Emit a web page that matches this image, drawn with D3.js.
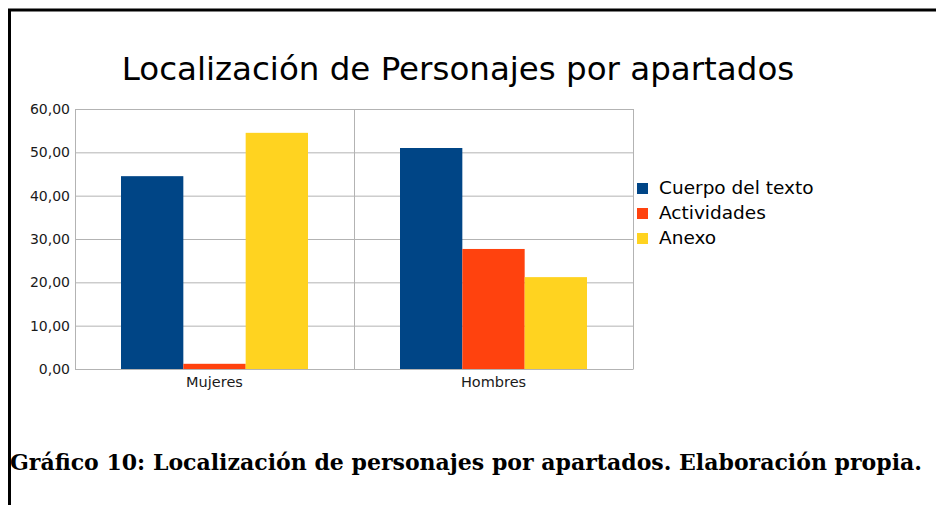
<!DOCTYPE html>
<html>
<head>
<meta charset="utf-8">
<script src="https://cdn.jsdelivr.net/npm/d3@7"></script>
<style>
  body { margin: 0; background: #fff; }
</style>
</head>
<body>
<script>
// datos
var categorias = ["Mujeres", "Hombres"];
var series = ["Cuerpo del texto", "Actividades", "Anexo"];
var cuerpo = [44.5, 51.0];
var actividades = [1.2, 27.7];
var anexo = [54.5, 21.2];
var ticks = [0, 10, 20, 30, 40, 50, 60];
var colores = ["#004586", "#ff420e", "#ffd320"];

var valores = [cuerpo, actividades, anexo];

var width = 936, height = 505;
var svg = d3.select("body").append("svg")
    .attr("width", width)
    .attr("height", height);

// marco de la pagina
svg.append("rect").attr("x", 0).attr("y", 0).attr("width", width).attr("height", height).style("fill", "white");
svg.append("line").attr("x1", 8).attr("x2", 936).attr("y1", 10).attr("y2", 10)
    .style("stroke", "black").style("stroke-width", 3);
svg.append("line").attr("x1", 9.5).attr("x2", 9.5).attr("y1", 9).attr("y2", 505)
    .style("stroke", "black").style("stroke-width", 3);

var pLeft = 75, pRight = 633, pTop = 109, pBottom = 369;

var x = d3.scaleBand().domain(categorias).range([pLeft, pRight]);
var xs = d3.scaleBand().domain(series).range([0, 187]);
var y = d3.scaleLinear().domain([0, 60]).range([pBottom, pTop]);

// rejilla
svg.selectAll(".grid")
    .data(ticks)
    .enter()
    .append("line")
    .attr("x1", pLeft).attr("x2", pRight)
    .attr("y1", function (d) { return y(d) + 0.5; })
    .attr("y2", function (d) { return y(d) + 0.5; })
    .style("stroke", "#b3b3b3")
    .style("stroke-width", 1);

// separadores verticales
var bordes = [pLeft, x("Hombres"), pRight];
svg.selectAll(".vline")
    .data(bordes)
    .enter()
    .append("line")
    .attr("x1", function (d) { return Math.round(d) + 0.5; })
    .attr("x2", function (d) { return Math.round(d) + 0.5; })
    .attr("y1", pTop).attr("y2", pBottom)
    .style("stroke", "#b3b3b3")
    .style("stroke-width", 1);

// barras
var grupos = svg.selectAll(".grupo")
    .data(categorias)
    .enter()
    .append("g")
    .attr("transform", function (d) {
        return "translate(" + (x(d) + (x.bandwidth() - 187) / 2) + ",0)";
    });

grupos.selectAll("rect")
    .data(function (d, i) {
        return series.map(function (s, j) { return { serie: s, valor: valores[j][i], color: colores[j] }; });
    })
    .enter()
    .append("rect")
    .attr("x", function (d) { return xs(d.serie); })
    .attr("y", function (d) { return y(d.valor); })
    .attr("width", xs.bandwidth())
    .attr("height", function (d) { return pBottom - y(d.valor); })
    .style("fill", function (d) { return d.color; });

// eje y
var fmt = function (d) { return d3.format(".2f")(d).replace(".", ","); };
var ejeY = svg.append("g")
    .attr("transform", "translate(" + pLeft + ",0)")
    .call(d3.axisLeft(y).tickValues(ticks).tickSize(0).tickPadding(5).tickFormat(fmt));
ejeY.select(".domain").remove();
ejeY.selectAll("text")
    .style("font-family", "DejaVu Sans")
    .style("font-size", "14px")
    .style("fill", "#1a1a1a");

// eje x
var ejeX = svg.append("g")
    .attr("transform", "translate(0," + pBottom + ")")
    .call(d3.axisBottom(x).tickSize(0).tickPadding(8));
ejeX.select(".domain")
    .style("stroke", "#b3b3b3");
ejeX.selectAll("text")
    .style("font-family", "DejaVu Sans")
    .style("font-size", "14.5px")
    .style("fill", "#1a1a1a");

// titulo
svg.append("text")
    .attr("x", 458)
    .attr("y", 80)
    .attr("text-anchor", "middle")
    .style("font-family", "DejaVu Sans")
    .style("font-size", "32.5px")
    .style("fill", "#000")
    .text("Localización de Personajes por apartados");

// leyenda
var leyenda = svg.selectAll(".leyenda")
    .data(series)
    .enter()
    .append("g")
    .attr("transform", function (d, i) { return "translate(637," + (183 + i * 25) + ")"; });
leyenda.append("rect")
    .attr("width", 11).attr("height", 11)
    .style("fill", function (d, i) { return colores[i]; });
leyenda.append("text")
    .attr("x", 22)
    .attr("y", 11)
    .style("font-family", "DejaVu Sans")
    .style("font-size", "18.5px")
    .style("fill", "#000")
    .text(function (d) { return d; });

// pie de figura
svg.append("text")
    .attr("x", 10)
    .attr("y", 470)
    .attr("textLength", 912)
    .attr("lengthAdjust", "spacingAndGlyphs")
    .style("font-family", "DejaVu Serif")
    .style("font-weight", "bold")
    .style("font-size", "22px")
    .style("fill", "#000")
    .text("Gráfico 10: Localización de personajes por apartados. Elaboración propia.");
</script>
</body>
</html>
